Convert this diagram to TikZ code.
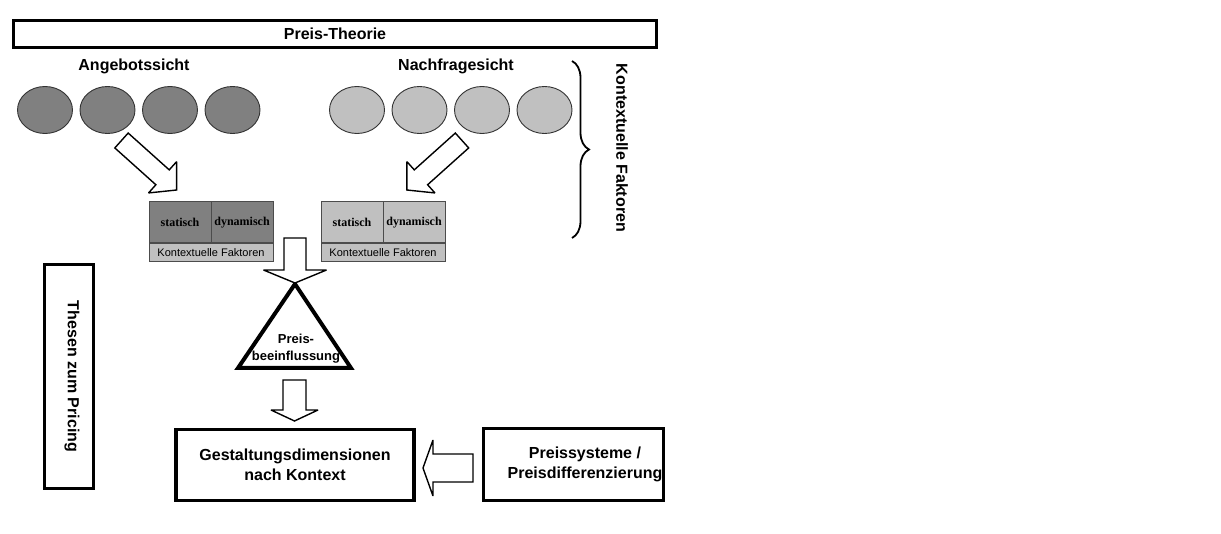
\documentclass[tikz,border=0pt]{standalone}
\usepackage{fontspec}
\setmainfont{Liberation Sans}
\newfontfamily\serifbf{Liberation Serif}
\usetikzlibrary{shapes.geometric,calc,decorations.pathreplacing}

\definecolor{darkfill}{HTML}{808080}
\definecolor{lightfill}{HTML}{C0C0C0}

% Outlined block arrow from #1 to #2:
% #3 half shaft width, #4 half head width, #5 head length
\newcommand\blockarr[5]{%
  \coordinate (#1-#2-hb) at ($(#2)!#5!(#1)$);
  \draw[blockarrow]
    ($(#1)!#3!90:(#2)$) -- ($(#1-#2-hb)!#3!90:(#2)$) --
    ($(#1-#2-hb)!#4!90:(#2)$) -- (#2) --
    ($(#1-#2-hb)!#4!-90:(#2)$) -- ($(#1-#2-hb)!#3!-90:(#2)$) --
    ($(#1)!#3!-90:(#2)$) -- cycle;
}

\begin{document}
\begin{tikzpicture}[x=1pt,y=-1pt,
  thickbox/.style={draw, line width=3.5pt, fill=white, inner sep=0pt, align=center,
    font=\fontsize{16}{20.5}\selectfont\bfseries},
  head/.style={font=\fontsize{16}{20}\selectfont\bfseries, align=center, inner sep=0pt},
  darkell/.style={ellipse, draw=black!80, line width=0.9pt, fill=darkfill,
    minimum width=55pt, minimum height=47pt, inner sep=0pt},
  lightell/.style={darkell, fill=lightfill},
  cell/.style={draw=black!70, line width=0.8pt, inner sep=0pt,
    minimum width=62pt, minimum height=41pt,
    font=\serifbf\fontsize{12}{14}\selectfont\bfseries},
  factor/.style={draw=black!70, line width=0.8pt, fill=lightfill, inner sep=0pt,
    minimum width=124pt, minimum height=18.7pt, font=\fontsize{11}{13}\selectfont},
  blockarrow/.style={draw, line width=1.4pt, fill=white, line join=miter, miter limit=2.5},
]
\useasboundingbox (0,0) rectangle (1221,534);

% top bar
\node[thickbox, minimum width=643pt, minimum height=27pt] (theory) at (335,34) {Preis-Theorie};

% the two views
\node[head] (supply) at (134,66) {Angebotssicht};
\node[head] (demand) at (456,66) {Nachfragesicht};

\foreach \i in {0,...,3} {
  \node[darkell] (s\i) at ({45+62.5*\i},110) {};
  \node[lightell] (d\i) at ({357+62.5*\i},110) {};
}

% brace with its label
\coordinate (brtop) at (572,61);
\coordinate (brbot) at (572,238);
\draw[line width=1.8pt, decorate, decoration={brace, amplitude=17pt}] (brtop) -- (brbot);
\node[head, rotate=-90] (ctx) at (622,148) {Kontextuelle Faktoren};

% factor boxes, supply side
\node[cell, fill=darkfill] (ls) at (180,222.4) {statisch};
\node[cell, fill=darkfill] (ld) at (242,222.4) {dynamisch};
\node[factor] (lk) at (211,252.4) {Kontextuelle Faktoren};

% factor boxes, demand side
\node[cell, fill=lightfill] (rs) at (352,222.4) {statisch};
\node[cell, fill=lightfill] (rd) at (414,222.4) {dynamisch};
\node[factor] (rk) at (383,252.4) {Kontextuelle Faktoren};

% price influence triangle
\coordinate (tritop) at (295,284);
\coordinate (trileft) at (238,368);
\coordinate (triright) at (351,368);
\draw[line width=4pt, line join=miter, fill=white] (tritop) -- (trileft) -- (triright) -- cycle;
\node[font=\fontsize{13}{17}\selectfont\bfseries, align=center, inner sep=0pt] (infl) at (296,349)
  {Preis-\\beeinflussung};

% lower boxes
\node[thickbox, minimum width=49pt, minimum height=224pt] (thesen) at (69,376.5) {};
\node[head, rotate=-90] (thesentext) at (72,376.5) {Thesen zum Pricing};
\node[thickbox, minimum width=238pt, minimum height=71pt] (design) at (295,465)
  {Gestaltungsdimensionen\\nach Kontext};
\node[thickbox, minimum width=180pt, minimum height=72pt] (systems) at (573.5,464.5) {};
\node[head, font=\fontsize{16}{20.5}\selectfont\bfseries] (systemstext) at (585,464.5)
  {Preissysteme /\\Preisdifferenzierung};

% block arrows
\coordinate (a1s) at (121.5,140.5);  \coordinate (a1e) at (176.7,190);
\coordinate (a2s) at (462,140.5);    \coordinate (a2e) at (406.8,190);
\coordinate (a3s) at (295,238);      \coordinate (a3e) at (295,283);
\coordinate (a4s) at (294.5,380);    \coordinate (a4e) at (294.5,421);
\coordinate (a5s) at (473,468);      \coordinate (a5e) at (423,468);
\blockarr{a1s}{a1e}{10pt}{21pt}{19pt}
\blockarr{a2s}{a2e}{10pt}{21pt}{19pt}
\blockarr{a3s}{a3e}{11pt}{31.5pt}{13pt}
\blockarr{a4s}{a4e}{11.5pt}{23.5pt}{11pt}
\blockarr{a5s}{a5e}{14pt}{28pt}{10pt}
\end{tikzpicture}
\end{document}
